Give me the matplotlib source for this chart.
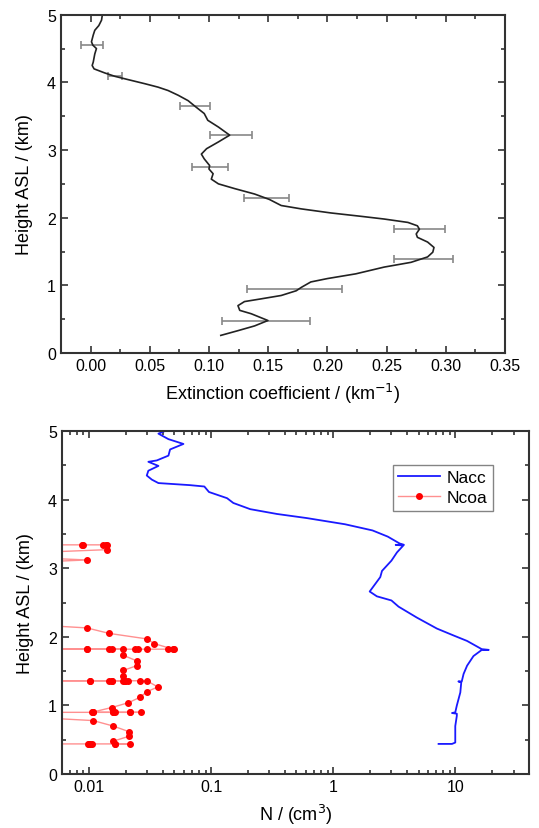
import numpy as np
import matplotlib
matplotlib.use("Agg")
import matplotlib.pyplot as plt
from matplotlib.ticker import MultipleLocator, LogLocator, FixedLocator, NullFormatter

plt.rcParams['font.family'] = ['Liberation Sans', 'DejaVu Sans']

# --- top panel: extinction profile (height km, extinction km^-1)
ext_h = [5.00, 4.92, 4.84, 4.77, 4.70, 4.60, 4.55, 4.50, 4.42, 4.30, 4.25, 4.20,
         4.14, 4.09, 4.04, 3.98, 3.93, 3.88, 3.81, 3.73, 3.65, 3.54, 3.44, 3.34,
         3.22, 3.12, 3.02, 2.94, 2.87, 2.77, 2.72, 2.65, 2.57, 2.50, 2.43, 2.35,
         2.27, 2.18, 2.13, 2.07, 2.02, 1.98, 1.93, 1.88, 1.83, 1.76, 1.71, 1.64,
         1.56, 1.49, 1.42, 1.34, 1.27, 1.17, 1.10, 1.05, 0.97, 0.92, 0.85, 0.80,
         0.76, 0.70, 0.63, 0.58, 0.48, 0.40, 0.33, 0.26]
ext_val = [0.010, 0.0093, 0.007, 0.0036, 0.0023, 0.0008, 0.002, 0.005, 0.0036, 0.0023, 0.0014, 0.003,
           0.012, 0.0205, 0.032, 0.046, 0.057, 0.0655, 0.074, 0.0824, 0.088, 0.096, 0.099, 0.108,
           0.1175, 0.108, 0.098, 0.0936, 0.096, 0.1006, 0.100, 0.1035, 0.102, 0.108, 0.1217, 0.1385,
           0.151, 0.161, 0.178, 0.203, 0.2285, 0.248, 0.268, 0.276, 0.2777, 0.275, 0.276, 0.2846,
           0.290, 0.289, 0.2846, 0.2706, 0.248, 0.224, 0.200, 0.186, 0.178, 0.1737, 0.161, 0.144,
           0.130, 0.1245, 0.126, 0.1357, 0.1498, 0.1385, 0.1245, 0.110]

err_h = [4.56, 4.09, 3.65, 3.22, 2.75, 2.29, 1.84, 1.39, 0.94, 0.48]
err_x = [0.001, 0.021, 0.088, 0.1185, 0.101, 0.149, 0.278, 0.281, 0.172, 0.148]
err_dx = [0.0094, 0.006, 0.0125, 0.0175, 0.015, 0.019, 0.0215, 0.025, 0.040, 0.037]

# --- bottom panel: number concentrations
nacc_h = [5.00, 4.96, 4.88, 4.81, 4.73, 4.64, 4.57, 4.55, 4.49, 4.42, 4.35, 4.29,
          4.24, 4.21, 4.19, 4.11, 4.02, 3.95, 3.86, 3.79, 3.73, 3.64, 3.55, 3.46,
          3.36, 3.34, 3.34, 3.33, 3.23, 3.11, 2.96, 2.87, 2.66, 2.59, 2.53, 2.44,
          2.28, 2.12, 2.02, 1.94, 1.82, 1.81, 1.81, 1.72, 1.58, 1.46, 1.35, 1.35,
          1.34, 1.19, 1.00, 0.90, 0.89, 0.88, 0.85, 0.70, 0.46, 0.44, 0.44]
nacc_val = [0.042, 0.037, 0.0447, 0.0593, 0.0461, 0.0447, 0.0359, 0.0306, 0.037, 0.0306, 0.0297, 0.0327,
            0.037, 0.067, 0.088, 0.096, 0.135, 0.152, 0.209, 0.346, 0.608, 1.25, 2.1, 2.8,
            3.5, 3.8, 3.25, 3.75, 3.33, 3.0, 2.51, 2.43, 1.99, 2.28, 3.0, 3.43,
            4.85, 7.08, 9.68, 12.5, 16.5, 18.8, 16.5, 14.1, 12.5, 11.7, 11.3, 10.6,
            11.2, 11.0, 10.3, 10.0, 9.4, 10.3, 10.3, 10.0, 10.0, 9.4, 7.3]

ncoa_h = [3.34, 3.34, 3.34, 3.34, 3.34, 3.34, 3.27, 3.21, 3.17, 3.12, 3.07,
          2.20, 2.13, 2.05, 1.97, 1.90,
          1.82, 1.82, 1.82, 1.82, 1.82, 1.82, 1.82, 1.82, 1.82, 1.82, 1.82, 1.82,
          1.73, 1.65, 1.58, 1.51, 1.43,
          1.36, 1.36, 1.36, 1.36, 1.36, 1.36, 1.36, 1.36, 1.36, 1.36, 1.36, 1.36,
          1.27, 1.20, 1.12, 1.04, 0.97,
          0.90, 0.90, 0.90, 0.90, 0.90, 0.90, 0.90, 0.90, 0.90, 0.90,
          0.85, 0.78, 0.70, 0.62, 0.55, 0.48,
          0.44, 0.44, 0.44, 0.44, 0.44, 0.44, 0.44, 0.44]
ncoa_val = [0.002, 0.0087, 0.0089, 0.013, 0.0137, 0.014, 0.014, 0.002, 0.002, 0.0097, 0.002,
            0.002, 0.0096, 0.0146, 0.0297, 0.0343,
            0.049, 0.050, 0.044, 0.030, 0.025, 0.024, 0.0146, 0.0096, 0.002, 0.0096, 0.0153, 0.0191,
            0.0191, 0.0246, 0.0246, 0.019, 0.019,
            0.0197, 0.0191, 0.0153, 0.0146, 0.0102, 0.002, 0.0102, 0.0153, 0.0197, 0.021, 0.0262, 0.0297,
            0.0366, 0.0297, 0.0262, 0.021, 0.0153,
            0.0105, 0.0108, 0.0158, 0.0163, 0.0217, 0.0266, 0.0217, 0.0158, 0.0108, 0.002,
            0.002, 0.0108, 0.0158, 0.0211, 0.0211, 0.0158,
            0.0163, 0.0217, 0.0163, 0.0105, 0.0100, 0.0102, 0.0098, 0.002]

fig = plt.figure(figsize=(5.39, 8.29), dpi=100)
ax1 = fig.add_axes([0.113, 0.573, 0.824, 0.408])
ax2 = fig.add_axes([0.115, 0.065, 0.866, 0.414])

ax1.errorbar(err_x, err_h, xerr=err_dx, fmt='none', ecolor='#888888', elinewidth=1.2,
             capsize=3, capthick=1.2)
ax1.plot(ext_val, ext_h, color='#222222', lw=1.2)
ax1.set_xlim(-0.025, 0.35)
ax1.set_ylim(0, 5)
ax1.xaxis.set_major_locator(MultipleLocator(0.05))
ax1.xaxis.set_minor_locator(MultipleLocator(0.025))
ax1.xaxis.set_major_formatter(plt.FormatStrFormatter('%.2f'))
ax1.set_xlabel('Extinction coefficient / (km$^{-1}$)', fontsize=13, labelpad=6)
ax1.set_ylabel('Height ASL / (km)', fontsize=13, labelpad=10)

ax2.plot(nacc_val, nacc_h, color='#1a1aff', lw=1.3, label='Nacc')
ax2.plot(ncoa_val, ncoa_h, color='#ff9090', lw=1.0, marker='o', markersize=4,
         markerfacecolor='red', markeredgecolor='red', label='Ncoa')
ax2.set_xscale('log')
ax2.set_xlim(0.006, 40)
ax2.set_ylim(0, 5)
ax2.xaxis.set_major_locator(FixedLocator([0.01, 0.1, 1, 10]))
ax2.xaxis.set_major_formatter(plt.FuncFormatter(lambda v, p: '%g' % v))
ax2.xaxis.set_minor_locator(LogLocator(base=10, subs=np.arange(2, 10)))
ax2.xaxis.set_minor_formatter(NullFormatter())
ax2.set_xlabel('N / (cm$^3$)', fontsize=13, labelpad=6)
ax2.set_ylabel('Height ASL / (km)', fontsize=13, labelpad=10)
leg = ax2.legend(loc='upper right', bbox_to_anchor=(0.942, 0.927), fontsize=12.5,
                 fancybox=False, edgecolor='#666666', handlelength=2.4,
                 borderpad=0.3, labelspacing=0.3, handletextpad=0.4)
leg.get_frame().set_linewidth(1.0)

for ax in (ax1, ax2):
    ax.yaxis.set_major_locator(MultipleLocator(1))
    ax.yaxis.set_minor_locator(MultipleLocator(0.5))
    ax.tick_params(which='both', direction='in', top=True, right=True, labelsize=11.5,
                   color='#333333', width=1.2)
    ax.tick_params(which='major', length=5)
    ax.tick_params(which='minor', length=3)
    for s in ax.spines.values():
        s.set_linewidth(1.5)
        s.set_color('#333333')

fig.savefig('out.png', dpi=100)
